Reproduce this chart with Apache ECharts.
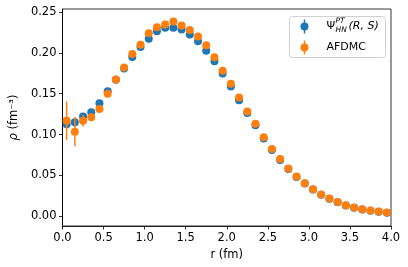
<!DOCTYPE html>
<html><head><meta charset="utf-8">
<script src="https://cdn.jsdelivr.net/npm/echarts@6/dist/echarts.min.js"></script>
<style>html,body{margin:0;padding:0;background:#fff}#c{width:408px;height:267px}</style>
</head><body><div id="c"></div>
<script>
const rValues = [0.05,0.15,0.25,0.35,0.45,0.55,0.65,0.75,0.85,0.95,1.05,1.15,1.25,1.35,1.45,1.55,1.65,1.75,1.85,1.95,2.05,2.15,2.25,2.35,2.45,2.55,2.65,2.75,2.85,2.95,3.05,3.15,3.25,3.35,3.45,3.55,3.65,3.75,3.85,3.95];
const psiValues = [0.1126,0.115,0.122,0.1274,0.1384,0.153,0.167,0.181,0.195,0.2072,0.2174,0.2264,0.2306,0.2306,0.2285,0.2224,0.2141,0.2027,0.1896,0.1748,0.1589,0.1421,0.1265,0.1115,0.0952,0.0810,0.0690,0.0578,0.0482,0.0400,0.0328,0.0263,0.0214,0.0173,0.0133,0.0105,0.0084,0.0068,0.0056,0.0044];
const psiErrors = [0.004,0.005,0.003,0.002,0.002,0.001,0.001,0.001,0.001,0.001,0.001,0.001,0.001,0.001,0.001,0.001,0.001,0.001,0.001,0.001,0.001,0.001,0.001,0.001,0.001,0.001,0.001,0.001,0.001,0.001,0.001,0.001,0.001,0.001,0.001,0.001,0.001,0.001,0.001,0.001];
const afdmcValues = [0.117,0.1036,0.117,0.1212,0.1314,0.150,0.1675,0.1822,0.1986,0.210,0.224,0.2313,0.2346,0.2383,0.2334,0.2281,0.2201,0.2092,0.1945,0.1781,0.1622,0.1453,0.1281,0.1134,0.0967,0.0823,0.0700,0.0586,0.0488,0.0405,0.0332,0.0266,0.0217,0.0176,0.0135,0.0107,0.0086,0.0070,0.0058,0.0045];
const afdmcErrors = [0.0235,0.018,0.007,0.005,0.004,0.002,0.001,0.001,0.001,0.001,0.001,0.001,0.001,0.001,0.001,0.001,0.001,0.001,0.001,0.001,0.001,0.001,0.001,0.001,0.001,0.001,0.001,0.001,0.001,0.001,0.001,0.001,0.001,0.001,0.001,0.001,0.001,0.001,0.001,0.001];
const yTicks = [0.00,0.05,0.10,0.15,0.20,0.25];
const xTicks = [0,0.5,1,1.5,2,2.5,3,3.5,4];

const BLUE = '#1f77b4', ORANGE = '#ff7f0e';
const FONT = 'DejaVu Sans';
const FS = 11.5;

function pts(vals){ return rValues.map((r,i)=>[r, vals[i]]); }
function errData(vals, errs){ return rValues.map((r,i)=>[r, vals[i]-errs[i], vals[i]+errs[i]]); }
function errSeries(vals, errs, color, z){
  return {
    type:'custom', z:z, silent:true,
    data: errData(vals, errs),
    encode:{x:0, y:[1,2]},
    renderItem:function(params, api){
      const a = api.coord([api.value(0), api.value(1)]);
      const b = api.coord([api.value(0), api.value(2)]);
      return {type:'line', shape:{x1:a[0],y1:a[1],x2:b[0],y2:b[1]}, style:{stroke:color, lineWidth:1.5}};
    }
  };
}

const chart = echarts.init(document.getElementById('c'), null, {renderer:'canvas'});
const lx = 289, ly = 16;
chart.setOption({
  animation:false,
  backgroundColor:'#fff',
  grid:{left:58, right:17, top:9, bottom:41, show:true, borderColor:'#000', borderWidth:0.8, backgroundColor:'transparent'},
  xAxis:{
    type:'value', min:0, max:4, interval:0.5,
    name:'r (fm)', nameLocation:'middle', nameGap:20,
    nameTextStyle:{fontFamily:FONT, fontSize:FS, color:'#000'},
    axisLine:{show:true, onZero:false, lineStyle:{color:'#000', width:0.8}},
    axisTick:{show:true, length:3.5, lineStyle:{color:'#000', width:0.8}},
    axisLabel:{fontFamily:FONT, fontSize:FS, color:'#000', margin:6,
      formatter:v=>v.toFixed(1)},
    splitLine:{show:false}
  },
  yAxis:{
    type:'value', min:-0.0119, max:0.2537,
    name:'{i|ρ} (fm⁻³)', nameLocation:'middle', nameGap:40, nameRotate:90,
    nameTextStyle:{fontFamily:FONT, fontSize:FS, color:'#000',
      rich:{i:{fontFamily:FONT, fontSize:FS, fontStyle:'italic', color:'#000'}}},
    axisLine:{show:true, onZero:false, lineStyle:{color:'#000', width:0.8}},
    axisTick:{show:true, length:3.5, customValues:yTicks, lineStyle:{color:'#000', width:0.8}},
    axisLabel:{fontFamily:FONT, fontSize:FS, color:'#000', margin:6, customValues:yTicks,
      formatter:v=>v.toFixed(2)},
    splitLine:{show:false}
  },
  series:[
    errSeries(psiValues, psiErrors, BLUE, 2),
    {type:'scatter', z:3, data:pts(psiValues), symbol:'circle', symbolSize:8, itemStyle:{color:BLUE, opacity:1}},
    errSeries(afdmcValues, afdmcErrors, ORANGE, 4),
    {type:'scatter', z:5, data:pts(afdmcValues), symbol:'circle', symbolSize:8, itemStyle:{color:ORANGE, opacity:1}}
  ],
  graphic:[{
    type:'group', left:lx, top:ly, z:100,
    children:[
      {type:'rect', shape:{x:0,y:0,width:96,height:41,r:3}, style:{fill:'rgba(255,255,255,0.8)', stroke:'#d0d0d0', lineWidth:1}},
      {type:'line', shape:{x1:15,y1:3,x2:15,y2:17}, style:{stroke:BLUE, lineWidth:1.5}},
      {type:'circle', shape:{cx:15,cy:10,r:4}, style:{fill:BLUE}},
      {type:'line', shape:{x1:15,y1:24,x2:15,y2:38}, style:{stroke:ORANGE, lineWidth:1.5}},
      {type:'circle', shape:{cx:15,cy:31,r:4}, style:{fill:ORANGE}},
      {type:'text', x:37, y:10, style:{text:'Ψ', fontFamily:FONT, fontSize:11, fill:'#000', verticalAlign:'middle'}},
      {type:'text', x:46, y:5, style:{text:'PT', fontFamily:FONT, fontSize:7.5, fontStyle:'italic', fill:'#000', verticalAlign:'middle'}},
      {type:'text', x:46, y:14, style:{text:'HN', fontFamily:FONT, fontSize:7.5, fontStyle:'italic', fill:'#000', verticalAlign:'middle'}},
      {type:'text', x:59, y:10, style:{text:'(R, S)', fontFamily:FONT, fontSize:11, fontStyle:'italic', fill:'#000', verticalAlign:'middle'}},
      {type:'text', x:37, y:31, style:{text:'AFDMC', fontFamily:FONT, fontSize:11, fill:'#000', verticalAlign:'middle'}}
    ]
  }]
});
</script></body></html>
